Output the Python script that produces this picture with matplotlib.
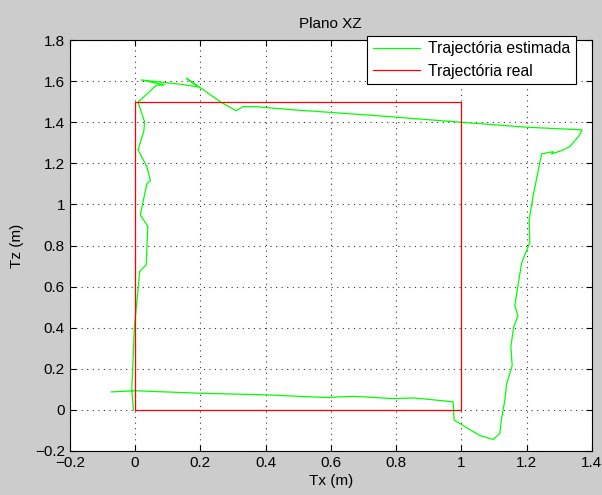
import matplotlib
matplotlib.use("Agg")
import matplotlib.pyplot as plt
from matplotlib.ticker import FuncFormatter

plt.rcParams['font.family'] = ['Liberation Sans', 'DejaVu Sans']
plt.rcParams['font.size'] = 11

# trajectoria estimada (x, z)
est_x = [-0.073, -0.01, 0.0, 0.198, 0.402, 0.586, 0.668, 0.791, 0.857, 0.975,
         0.978, 1.057, 1.098, 1.118, 1.123, 1.133, 1.139, 1.156, 1.152, 1.161,
         1.174, 1.164, 1.185, 1.21, 1.208, 1.22, 1.246, 1.282, 1.277, 1.307,
         1.333, 1.363, 1.37, 1.2, 1.0, 0.75, 0.5, 0.367, 0.331, 0.31, 0.264,
         0.203, 0.157, 0.195, 0.14, 0.07, 0.019, 0.09, 0.065, 0.009, 0.029,
         0.027, 0.009, 0.036, 0.047, 0.036, 0.016, 0.039, 0.034, 0.014, 0.009,
         -0.002, -0.01, -0.005]
est_z = [0.0875, 0.092, 0.093, 0.081, 0.073, 0.06, 0.066, 0.055, 0.058, 0.039,
         -0.05, -0.125, -0.144, -0.115, -0.047, 0.042, 0.126, 0.215, 0.309, 0.406,
         0.458, 0.507, 0.715, 0.815, 0.925, 1.038, 1.246, 1.257, 1.246, 1.262,
         1.282, 1.338, 1.363, 1.376, 1.40, 1.431, 1.459, 1.476, 1.476, 1.456, 1.497,
         1.565, 1.614, 1.572, 1.585, 1.597, 1.606, 1.582, 1.58, 1.497, 1.403,
         1.358, 1.265, 1.184, 1.116, 1.1, 0.949, 0.893, 0.706, 0.674, 0.585,
         0.406, 0.099, 0.0]

# trajectoria real
real_x = [0, 1, 1, 0, 0]
real_z = [0, 0, 1.5, 1.5, 0]

fig = plt.figure(figsize=(6.02, 4.95), dpi=100, facecolor='#cccccc')
ax = fig.add_axes([0.116, 0.089, 0.867, 0.830])

ax.plot(est_x, est_z, color='#00ff00', lw=0.9, label='Trajectória estimada')
ax.plot(real_x, real_z, color='#ff0000', lw=0.9, label='Trajectória real')

ax.set_xlim(-0.2, 1.4)
ax.set_ylim(-0.2, 1.8)
ax.set_xticks([-0.2, 0, 0.2, 0.4, 0.6, 0.8, 1, 1.2, 1.4])
ax.set_yticks([-0.2, 0, 0.2, 0.4, 0.6, 0.8, 1, 1.2, 1.4, 1.6, 1.8])
fmt = FuncFormatter(lambda v, p: ('%g' % round(v, 2)).replace('-', '\u2212'))
ax.xaxis.set_major_formatter(fmt)
ax.yaxis.set_major_formatter(fmt)
ax.tick_params(direction='in', top=True, right=True, length=4, labelsize=11)
ax.grid(True, linestyle=(0, (1, 4)), color='#333333', lw=0.8)

ax.set_title('Plano XZ', fontsize=11, pad=9)
ax.set_xlabel('Tx (m)', fontsize=11, labelpad=3)
ax.set_ylabel('Tz (m)', fontsize=11, labelpad=8)

leg = ax.legend(loc='upper right', bbox_to_anchor=(0.969, 1.01), fancybox=False,
                edgecolor='black', framealpha=1, borderaxespad=0.0,
                handlelength=3.0, handletextpad=0.5, labelspacing=0.45,
                borderpad=0.35, fontsize=11.3)
leg.get_frame().set_linewidth(0.8)

fig.savefig('out.png', dpi=100, facecolor=fig.get_facecolor())
